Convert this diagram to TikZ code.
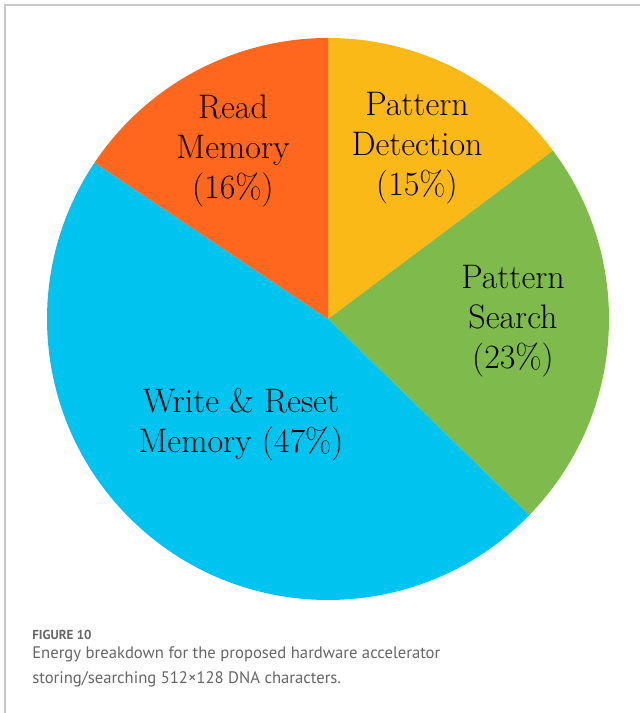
\documentclass[tikz,border=0pt]{standalone}
\usepackage{fontspec}
\newfontfamily\capfont{PT Sans}
\usepackage{xcolor}
\definecolor{pieorange}{HTML}{FF671F}
\definecolor{pieyellow}{HTML}{FBB917}
\definecolor{piegreen}{HTML}{7EBB4C}
\definecolor{pieblue}{HTML}{00C4F0}
\definecolor{capgray}{HTML}{666666}
\definecolor{framegray}{HTML}{C8C8C8}

\begin{document}
\begin{tikzpicture}[x=0.75pt, y=0.75pt,
                    every node/.style={font=\fontsize{25.5}{30}\selectfont, align=center, inner sep=0pt},
                    caption/.style={font=\capfont\fontsize{12.5}{16}\selectfont, text=capgray, anchor=base west}]

\useasboundingbox (0,0) rectangle (640,713);

%% ==== 外框: 只有上邊與左邊 ==========================================
\draw[framegray, line width=1.5] (640,708) -- (5,708) -- (5,0);

%% ==== 圓餅圖 ========================================================
\coordinate (c) at (328,394);
\def\rad{281}

%% 各扇形: 起始角/結束角/顏色 (順時針)
\foreach \a/\b/\col in {90/36.8/pieyellow, 36.8/-44.3/piegreen,
                        -44.3/-213.8/pieblue, -213.8/-270/pieorange}
  \fill[\col] (c) -- ++(\a:\rad) arc[start angle=\a, end angle=\b, radius=\rad] -- cycle;

%% 各扇形的標示
\node (rm) at (233,562) {Read\\Memory\\(16\%)};
\node (pd) at (417,565) {Pattern\\Detection\\(15\%)};
\node (ps) at (513,392) {Pattern\\Search\\(23\%)};
\node (wr) at (241,288) {Write \& Reset\\Memory (47\%)};

%% ==== 圖說 ==========================================================
\node[caption, font=\capfont\bfseries\fontsize{9.8}{12}\selectfont] (figno) at (32,73.5) {FIGURE 10};
\node[caption] (capa)  at (32,54) {Energy breakdown for the proposed hardware accelerator};
\node[caption] (capb)  at (32,29) {storing/searching 512×128 DNA characters.};

\end{tikzpicture}
\end{document}
